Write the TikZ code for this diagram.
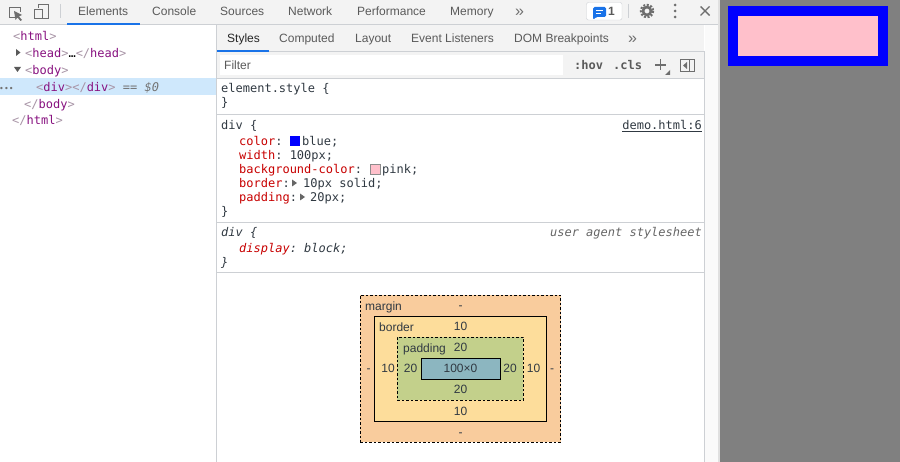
\documentclass[tikz,border=0pt]{standalone}
\usepackage{fontspec}
\setmainfont{Liberation Sans}
\setmonofont{DejaVu Sans Mono}
\usetikzlibrary{calc}

\definecolor{barbg}{HTML}{F3F3F3}
\definecolor{sepline}{HTML}{CDD0D4}
\definecolor{tabtext}{HTML}{5A5A5A}
\definecolor{iconcol}{HTML}{6E6E6E}
\definecolor{tabblue}{HTML}{1A73E8}
\definecolor{rowblue}{HTML}{CFE8FC}
\definecolor{tagname}{HTML}{881280}
\definecolor{tagmark}{HTML}{A894A6}
\definecolor{propred}{HTML}{C80000}
\definecolor{cssval}{HTML}{303942}
\definecolor{cssblue}{HTML}{0000FF}
\definecolor{csspink}{HTML}{FFC0CB}
\definecolor{marginbg}{HTML}{F9CC9D}
\definecolor{borderbg}{HTML}{FDDD9B}
\definecolor{paddingbg}{HTML}{C3D08B}
\definecolor{contentbg}{HTML}{8CB6C0}

\newcommand{\tagtxt}[1]{\textcolor{tagmark}{<}\textcolor{tagname}{#1}\textcolor{tagmark}{>}}
\newcommand{\tagend}[1]{\textcolor{tagmark}{</}\textcolor{tagname}{#1}\textcolor{tagmark}{>}}
\newcommand{\propname}[1]{\textcolor{propred}{#1}}

\tikzset{
  tabtxt/.style={anchor=base west, inner sep=0pt, yshift=-1pt, text=tabtext, font=\fontsize{12}{14}\selectfont},
  moretxt/.style={tabtxt, text=iconcol, font=\fontsize{16}{16}\selectfont},
  codetxt/.style={anchor=base west, inner sep=0pt, yshift=-1pt, text=cssval, font=\fontsize{12}{14}\ttfamily},
  boxtxt/.style={anchor=base, inner sep=0pt, text=cssval, font=\fontsize{12}{14}\selectfont},
  sepln/.style={draw=sepline, line width=1pt},
  solidbox/.style={draw=black, line width=0.9pt, inner sep=0pt},
  dashbox/.style={draw=black, line width=0.9pt, dash pattern=on 2.5pt off 2pt, inner sep=0pt},
  icon/.style={draw=iconcol, line width=1pt},
}

\begin{document}
\begin{tikzpicture}[x=1pt, y=-1pt, line cap=butt, line join=miter]
  \useasboundingbox (0,0) rectangle (900,462);

  % panels and bars
  \fill[white] (0,0) rectangle (718,462);
  \fill[barbg] (0,0) rectangle (718,24);
  \fill[barbg] (217,25) rectangle (704,78);
  \fill[white] (220,55) rectangle (563,75);
  \fill[rowblue] (0,78.5) rectangle (216,95);
  \fill[black!2] (705,25) rectangle (718,462);
  \fill[black!12] (718,0) rectangle (720,462);

  \draw[sepln] (0,24.5) -- (718,24.5);
  \draw[sepln] (216.5,25) -- (216.5,462);
  \draw[sepln] (704.5,51) -- (704.5,462);
  \draw[sepln] (217,51.5) -- (704,51.5);
  \foreach \yy in {78.5,115,222.5,273}
    \draw[sepln] (217,\yy) -- (704,\yy);
  \draw[sepln] (60,4) -- (60,18);
  \draw[sepln] (628,4) -- (628,18);

  % page area with the rendered element
  \fill[black!50] (720,0) rectangle (900,462);
  \fill[cssblue] (728,6) rectangle (888,66);
  \fill[csspink] (738,16) rectangle (878,56);

  % main tabs
  \foreach \xx/\lbl/\nm in {78/Elements/elements,152/Console/console,220/Sources/sources,288/Network/network,357/Performance/performance,450/Memory/memory}
    \node[tabtxt] (tab\nm) at (\xx,15) {\lbl};
  \node[moretxt] (tabmore) at (515,15.5) {»};
  \fill[tabblue] (67,23) rectangle (140,25);

  % sidebar tabs
  \node[tabtxt, text=black!85] (subtabstyles) at (227,42) {Styles};
  \foreach \xx/\lbl/\nm in {279/Computed/computed,355/Layout/layout,411/Event Listeners/listeners,514/DOM Breakpoints/breakpoints}
    \node[tabtxt] (subtab\nm) at (\xx,42) {\lbl};
  \node[moretxt] (subtabmore) at (628,42.5) {»};
  \fill[tabblue] (217,50) rectangle (269,52);

  % filter row
  \node[tabtxt] (filter) at (224,68.5) {Filter};
  \node[codetxt, text=tabtext, font=\fontsize{12}{14}\ttfamily\bfseries] (hov) at (574,68.5) {:hov};
  \node[codetxt, text=tabtext, font=\fontsize{12}{14}\ttfamily\bfseries] (cls) at (613,68.5) {.cls};
  \draw[icon, line width=1.2pt] (655,65) -- (666,65) (660.5,59.5) -- (660.5,70.5);
  \fill[iconcol] (670,70) -- (670,75) -- (665,75) -- cycle;
  \draw[icon] (680.5,59.5) rectangle (694.5,71.5);
  \draw[icon] (689.5,59.5) -- (689.5,71.5);
  \fill[iconcol] (687,62) -- (687,69) -- (683,65.5) -- cycle;

  % toolbar icons
  \draw[icon] (18,18) -- (9,18) -- (9,8) -- (20,8) -- (20,12);
  \fill[iconcol] (14,11) -- (22,15) -- (19,16.5) -- (22,20) -- (20.5,21) -- (17.5,17.5) -- (15.5,20) -- cycle;
  \draw[icon] (38,8) -- (38,4.5) -- (48.5,4.5) -- (48.5,18.5) -- (43,18.5);
  \draw[icon] (34.5,9.5) rectangle (42.5,18.5);
  \draw[draw=sepline, fill=white, rounded corners=2pt] (586.5,2.5) rectangle (622,20);
  \fill[tabblue, rounded corners=1.5pt] (593,7) -- (606,7) -- (606,17) -- (596,17) -- (593,20) -- cycle;
  \draw[white, line width=1pt] (596,10.5) -- (603,10.5) (596,13.5) -- (601,13.5);
  \node[tabtxt, font=\fontsize{12}{14}\bfseries] (badgecount) at (608,15) {1};
  \draw[iconcol, line width=2pt, dash pattern=on 2pt off 1.6pt] (647,11) circle[radius=6.2];
  \draw[iconcol, line width=2.6pt] (647,11) circle[radius=4];
  \foreach \yy in {5,11,17}
    \fill[iconcol] (675,\yy) circle[radius=1.5];
  \draw[icon, line width=1.4pt] (700.5,6.5) -- (709.5,15.5) (709.5,6.5) -- (700.5,15.5);

  % element tree
  \node[codetxt] (treehtml) at (13,40) {\tagtxt{html}};
  \fill[black!65] (16,49) -- (20.5,52.5) -- (16,56) -- cycle;
  \node[codetxt] (treehead) at (25,57) {\tagtxt{head}\textcolor{black}{…}\tagend{head}};
  \fill[black!65] (14,67) -- (21,67) -- (17.5,72) -- cycle;
  \node[codetxt] (treebody) at (25,74) {\tagtxt{body}};
  \node[codetxt, text=black!55] (treedots) at (-1,91) {\fontsize{8}{8}\selectfont •••};
  \node[codetxt, text=black!55] (treediv) at (36,91) {\tagtxt{div}\tagend{div} == \textit{\$0}};
  \node[codetxt] (treebodyend) at (24,108) {\tagend{body}};
  \node[codetxt] (treehtmlend) at (12,124) {\tagend{html}};

  % style rules
  \node[codetxt] (elstyle) at (221,92) {element.style \{};
  \node[codetxt] (elstyleend) at (221,106) {\}};

  \node[codetxt] (divrule) at (221,129) {div \{};
  \node[codetxt, anchor=base east] (source) at (702,129) {\underline{demo.html:6}};
  \node[codetxt] (colorprop) at (239,145) {\propname{color}:};
  \fill[cssblue] (290,136) rectangle (300,146);
  \node[codetxt] (colorval) at (302,145) {blue;};
  \node[codetxt] (widthprop) at (239,159) {\propname{width}: 100px;};
  \node[codetxt] (bgprop) at (239,173) {\propname{background-color}:};
  \draw[black!45, fill=csspink, line width=0.5pt] (370.5,164.5) rectangle (380,174);
  \node[codetxt] (bgval) at (382,173) {pink;};
  \node[codetxt] (borderprop) at (239,187) {\propname{border}:};
  \fill[black!60] (292,179.5) -- (297,183) -- (292,186.5) -- cycle;
  \node[codetxt] (borderval) at (303,187) {10px solid;};
  \node[codetxt] (paddingprop) at (239,201) {\propname{padding}:};
  \fill[black!60] (300,193.5) -- (305,197) -- (300,200.5) -- cycle;
  \node[codetxt] (paddingval) at (310,201) {20px;};
  \node[codetxt] (divruleend) at (221,215) {\}};

  \node[codetxt, font=\fontsize{12}{14}\ttfamily\itshape] (uarule) at (221,236) {div \{};
  \node[codetxt, font=\fontsize{12}{14}\ttfamily\itshape, text=black!60, anchor=base east] (uasource) at (702,236) {user agent stylesheet};
  \node[codetxt, font=\fontsize{12}{14}\ttfamily\itshape] (displayprop) at (239,252) {\propname{display}: block;};
  \node[codetxt, font=\fontsize{12}{14}\ttfamily\itshape] (uaruleend) at (221,266) {\}};

  % box model
  \node[dashbox, fill=marginbg, minimum width=200.4, minimum height=147] (marginbox) at (460.5,368.8) {};
  \node[solidbox, fill=borderbg, minimum width=172.4, minimum height=104.6] (borderbox) at (460.5,369) {};
  \node[dashbox, fill=paddingbg, minimum width=126, minimum height=63] (paddingbox) at (460.3,368.8) {};
  \node[solidbox, fill=contentbg, minimum width=79.4, minimum height=21] (contentbox) at (461,368.8) {};

  \node[boxtxt, anchor=base west] (marginlbl) at (365,310.5) {margin};
  \node[boxtxt, anchor=base west] (borderlbl) at (379,331.5) {border};
  \node[boxtxt, anchor=base west] (paddinglbl) at (403,352.5) {padding};
  \node[boxtxt] (contentlbl) at (460.5,373) {100×0};

  \foreach \xx/\yy/\lbl/\nm in {460.5/310/-/margintop,460.5/436/-/marginbottom,368.5/373/-/marginleft,552/373/-/marginright,
      460.5/331/10/bordertop,460.5/415/10/borderbottom,388/373/10/borderleft,533.5/373/10/borderright,
      460.5/352/20/paddingtop,460.5/394/20/paddingbottom,410.5/373/20/paddingleft,510/373/20/paddingright}
    \node[boxtxt] (\nm) at (\xx,\yy) {\lbl};

\end{tikzpicture}
\end{document}
